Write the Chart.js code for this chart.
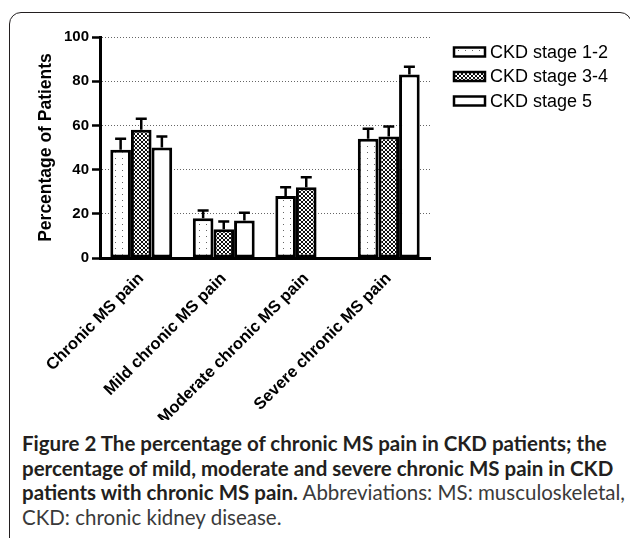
<!DOCTYPE html>
<html>
<head>
<meta charset="utf-8">
<script src="https://cdn.jsdelivr.net/npm/chart.js@4.4.1/dist/chart.umd.min.js"></script>
<style>
  html, body { margin: 0; padding: 0; background: #fff; width: 630px; height: 538px; overflow: hidden; }
  #frame { position: absolute; left: 9px; top: 12px; width: 623px; height: 600px; border: 1.5px solid #231f20; border-radius: 12px; box-sizing: border-box; }
  #wrap { position: absolute; left: 0; top: 0; width: 630px; height: 420px; }
  #caption { position: absolute; left: 22px; top: 431px; font-family: 'Lato', sans-serif; font-size: 20.5px; line-height: 24.5px; color: #3a3a3a; white-space: nowrap; }
  #caption b { color: #231f20; }
</style>
</head>
<body>
<div id="frame"></div>
<div id="wrap"><canvas id="chart"></canvas></div>
<div id="caption">
  <b>Figure 2 The percentage of chronic MS pain in CKD patients; the</b><br>
  <b>percentage of mild, moderate and severe chronic MS pain in CKD</b><br>
  <b>patients with chronic MS pain.</b> Abbreviations: MS: musculoskeletal,<br>
  CKD: chronic kidney disease.
</div>
<script>
// Data
const categories = ['Chronic MS pain', 'Mild chronic MS pain', 'Moderate chronic MS pain', 'Severe chronic MS pain'];
const seriesNames = ['CKD stage 1-2', 'CKD stage 3-4', 'CKD stage 5'];
const stage12 = [49, 18, 28, 54];
const stage34 = [58, 13, 32, 55];
const stage5 = [50, 17, null, 83];
// upper error bar lengths
const err12 = [5, 3.5, 4, 4.5];
const err34 = [5, 3.5, 4.5, 4.5];
const err5 = [5, 3.5, null, 3.5];
const yTicks = [0, 20, 40, 60, 80, 100];

Chart.defaults.font.family = "'Liberation Sans', Arial, sans-serif";
Chart.defaults.color = '#000';

// fill patterns
function dotPattern() {
    const c = document.createElement('canvas');
    c.width = 7; c.height = 6;
    const g = c.getContext('2d');
    g.fillStyle = '#fff';
    g.fillRect(0, 0, 7, 6);
    g.fillStyle = '#666';
    g.fillRect(3, 2, 1, 1);
    return g.createPattern(c, 'repeat');
}

function hatchPattern() {
    const c = document.createElement('canvas');
    c.width = 4; c.height = 4;
    const g = c.getContext('2d');
    g.fillStyle = '#fff';
    g.fillRect(0, 0, 4, 4);
    g.fillStyle = '#111';
    for (let i = 0; i < 4; i++) {
        g.fillRect(i, i, 1, 1);
        g.fillRect(3 - i, i, 1, 1);
    }
    return g.createPattern(c, 'repeat');
}

// one-sided (upper) error bars with a cap
const errorBars = {
    id: 'errorBars',
    afterDatasetsDraw(chart) {
        const ctx = chart.ctx;
        const y = chart.scales.y;
        chart.data.datasets.forEach((ds, i) => {
            const meta = chart.getDatasetMeta(i);
            meta.data.forEach((bar, j) => {
                const v = ds.data[j];
                const e = ds.errors[j];
                if (v == null || e == null) return;
                const top = y.getPixelForValue(v + e);
                ctx.save();
                ctx.strokeStyle = '#000';
                ctx.lineWidth = 2.5;
                ctx.beginPath();
                ctx.moveTo(bar.x, bar.y);
                ctx.lineTo(bar.x, top);
                ctx.moveTo(bar.x - 5.5, top);
                ctx.lineTo(bar.x + 5.5, top);
                ctx.stroke();
                ctx.restore();
            });
        });
    }
};

// legend beside the plot, built from the datasets
const sideLegend = {
    id: 'sideLegend',
    afterDraw(chart, args, opts) {
        const ctx = chart.ctx;
        chart.data.datasets.forEach((ds, i) => {
            const y = opts.top + i * opts.spacing;
            ctx.save();
            ctx.fillStyle = ds.backgroundColor;
            ctx.fillRect(opts.left, y - 4.5, 31, 9);
            ctx.lineWidth = 2.5;
            ctx.strokeStyle = '#000';
            ctx.strokeRect(opts.left, y - 4.5, 31, 9);
            ctx.fillStyle = '#000';
            ctx.font = "18px 'Liberation Sans', Arial, sans-serif";
            ctx.textBaseline = 'middle';
            ctx.fillText(ds.label, opts.left + 36, y + 1);
            ctx.restore();
        });
    }
};

const fills = [dotPattern(), hatchPattern(), '#fff'];
const values = [stage12, stage34, stage5];
const errors = [err12, err34, err5];

const ctx = document.getElementById('chart').getContext('2d');
new Chart(ctx, {
    type: 'bar',
    data: {
        labels: categories,
        datasets: seriesNames.map((name, i) => ({
            label: name,
            data: values[i],
            errors: errors[i],
            backgroundColor: fills[i],
            borderColor: '#000',
            borderWidth: 3,
            borderSkipped: false,
            categoryPercentage: 0.75,
            barPercentage: 1
        }))
    },
    options: {
        responsive: true,
        maintainAspectRatio: false,
        animation: false,
        layout: { padding: { left: 30, top: 37, right: 200, bottom: 0 } },
        scales: {
            x: {
                grid: { display: false },
                border: { display: true, color: '#000', width: 3 },
                ticks: {
                    autoSkip: false,
                    minRotation: 45,
                    maxRotation: 45,
                    padding: 3,
                    font: { size: 16.5, weight: 'bold' }
                },
                afterFit: (scale) => { scale.height = 162; }
            },
            y: {
                min: 0,
                max: 100,
                afterBuildTicks: (scale) => { scale.ticks = yTicks.map(v => ({ value: v })); },
                grid: {
                    color: '#666',
                    lineWidth: 1,
                    tickLength: 8,
                    tickColor: '#000',
                    tickWidth: 2.5
                },
                border: { display: true, color: '#000', width: 3, dash: [1, 2] },
                ticks: { padding: 3, font: { size: 15, weight: 'bold' } },
                title: {
                    display: true,
                    text: 'Percentage of Patients',
                    padding: { top: 6, bottom: 0 },
                    font: { size: 17.5, weight: 'bold' }
                },
                afterFit: (scale) => { scale.width = 70; }
            }
        },
        plugins: {
            legend: { display: false },
            tooltip: { enabled: false },
            sideLegend: { left: 454, top: 52, spacing: 24.5 }
        }
    },
    plugins: [errorBars, sideLegend]
});
</script>
</body>
</html>
